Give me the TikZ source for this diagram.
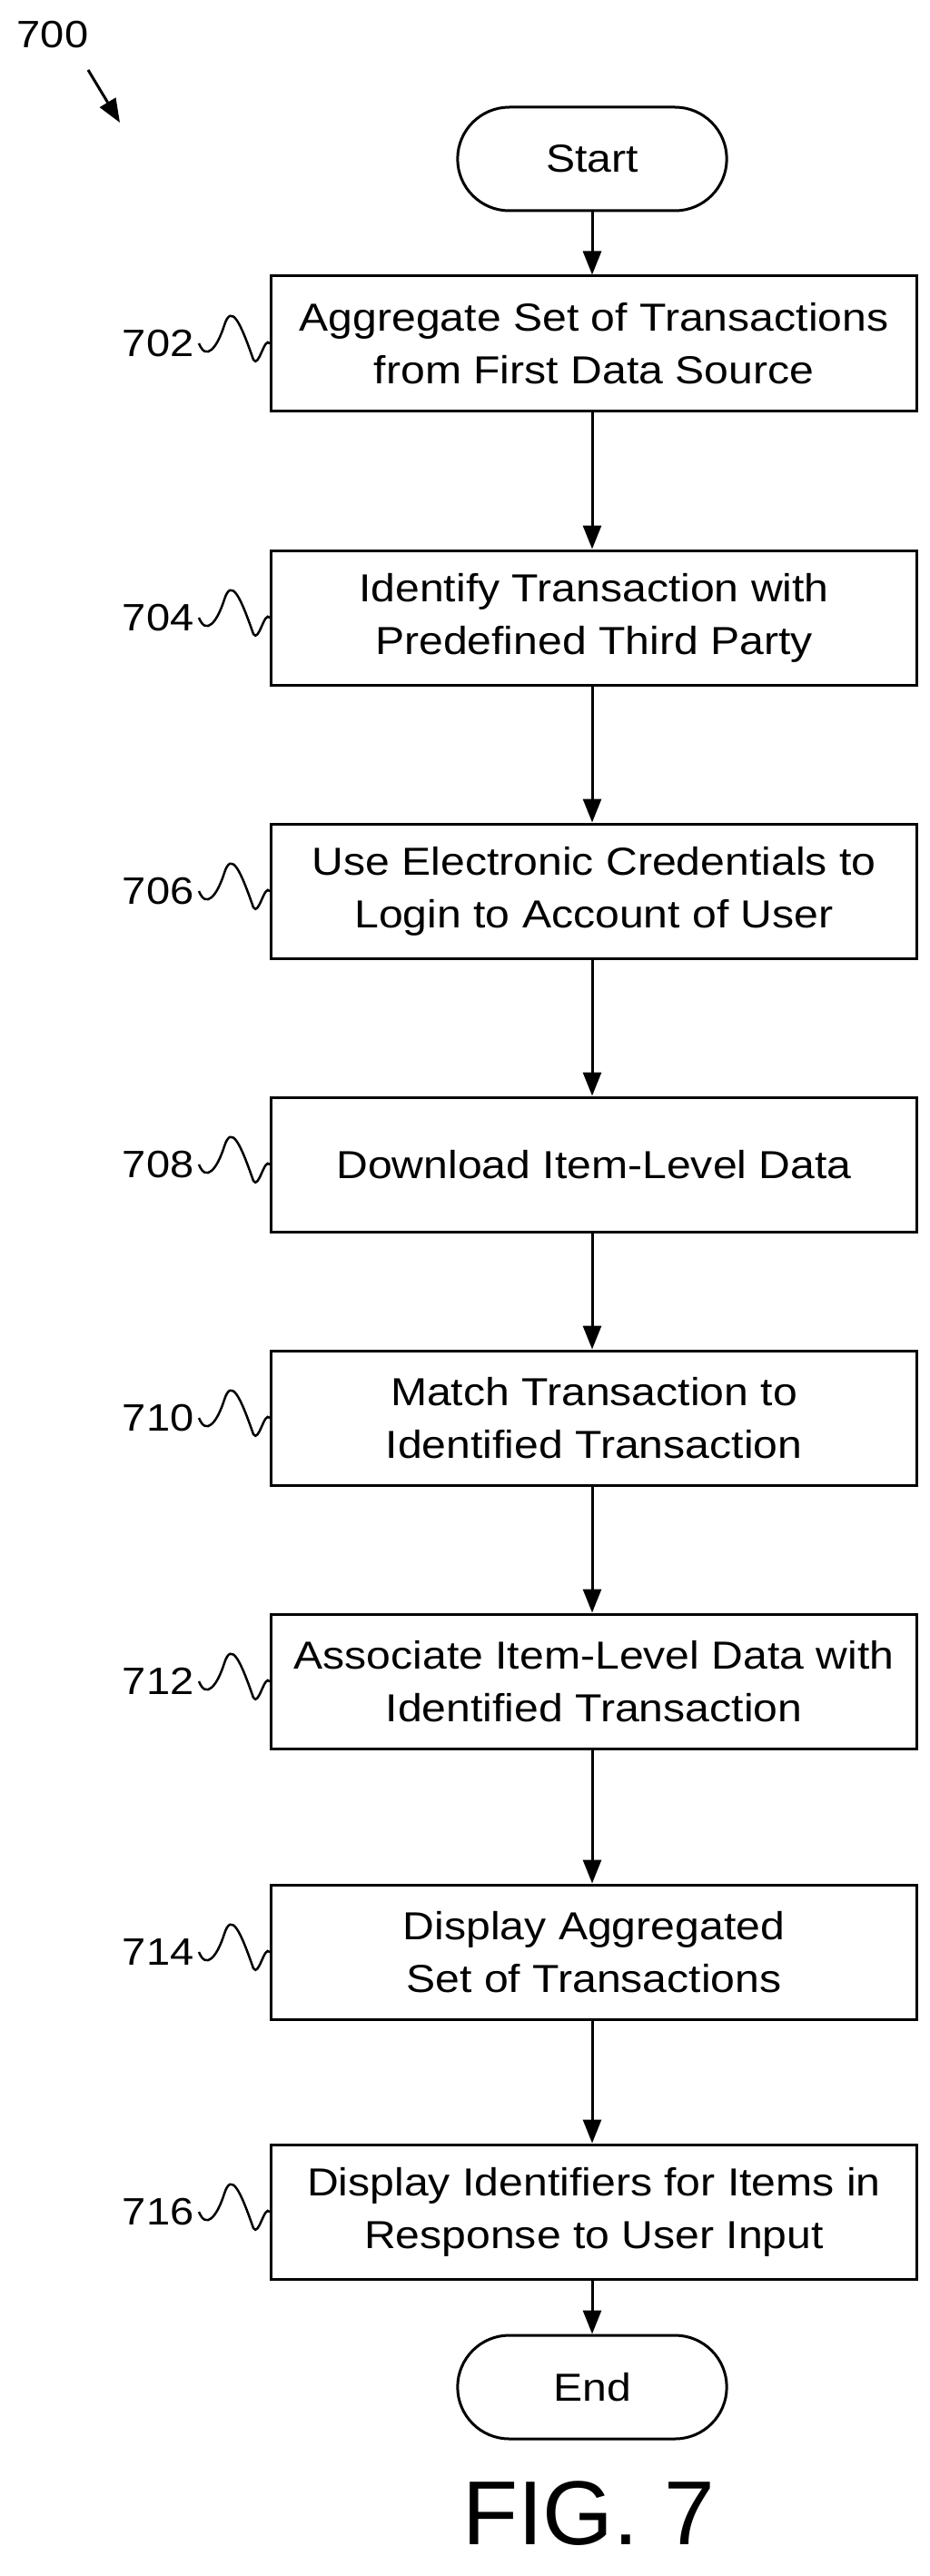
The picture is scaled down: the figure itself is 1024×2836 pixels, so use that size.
\documentclass[tikz,border=0pt]{standalone}
\usepackage{fontspec}
\setmainfont{Liberation Sans}[FakeStretch=1.12]
\newfontfamily\figfont{Liberation Sans}
\usetikzlibrary{shapes.misc,arrows.meta}
\begin{document}
\begin{tikzpicture}[x=1pt,y=-1pt,
  box/.style={draw,line width=3pt,minimum width=711pt,minimum height=148pt,align=center,font=\fontsize{43}{58}\selectfont,inner sep=0pt},
  term/.style={draw,line width=3pt,rounded rectangle,minimum width=303pt,minimum height=114pt,font=\fontsize{43}{46}\selectfont},
  lab/.style={font=\fontsize{42}{46}\selectfont,anchor=east},
  arr/.style={line width=3pt,-{Triangle[length=26pt,width=20pt]}}]
\useasboundingbox (0,0) rectangle (1024,2836);
\node[lab,anchor=center] (l700) at (58,38) {700};
\coordinate (a0) at (97,77); \coordinate (a1) at (132,135);
\draw[arr] (a0) -- (a1);
\node[term] (start) at (652,175) {Start};
\node[box] (b702) at (654,378) {Aggregate Set of Transactions\\from First Data Source};
\node[box] (b704) at (654,680) {Identify Transaction with\\Predefined Third Party};
\node[box] (b706) at (654,981) {Use Electronic Credentials to\\Login to Account of User};
\node[box] (b708) at (654,1282) {Download Item-Level Data};
\node[box] (b710) at (654,1561) {Match Transaction to\\Identified Transaction};
\node[box] (b712) at (654,1851) {Associate Item-Level Data with\\Identified Transaction};
\node[box] (b714) at (654,2149) {Display Aggregated\\Set of Transactions};
\node[box] (b716) at (654,2435) {Display Identifiers for Items in\\Response to User Input};
\node[term] (end) at (652,2628) {End};
\node[font=\figfont\fontsize{100}{110}\selectfont] (fig) at (648,2767) {FIG. 7};
\foreach \a/\b in {start/b702,b702/b704,b704/b706,b706/b708,b708/b710,b710/b712,b712/b714,b714/b716}
  \draw[arr] (\a.south -| start) -- (\b.north -| start);
\draw[arr] (b716.south -| end) -- (end.north);
\foreach \n in {702,704,706,708,710,712,714,716}{
  \node[lab] (t\n) at ([xshift=-80pt]b\n.west) {\n};
  \draw[line width=2.5pt] ([xshift=2pt]t\n.east) .. controls +(8,20) and +(-8,25) .. ([xshift=-50pt,yshift=20pt]b\n.west)
     .. controls +(8,-25) and +(-14,-40) .. ([xshift=-18pt,yshift=-18pt]b\n.west)
     .. controls +(6,10) and +(-6,-8) .. (b\n.west);
}
\end{tikzpicture}
\end{document}
